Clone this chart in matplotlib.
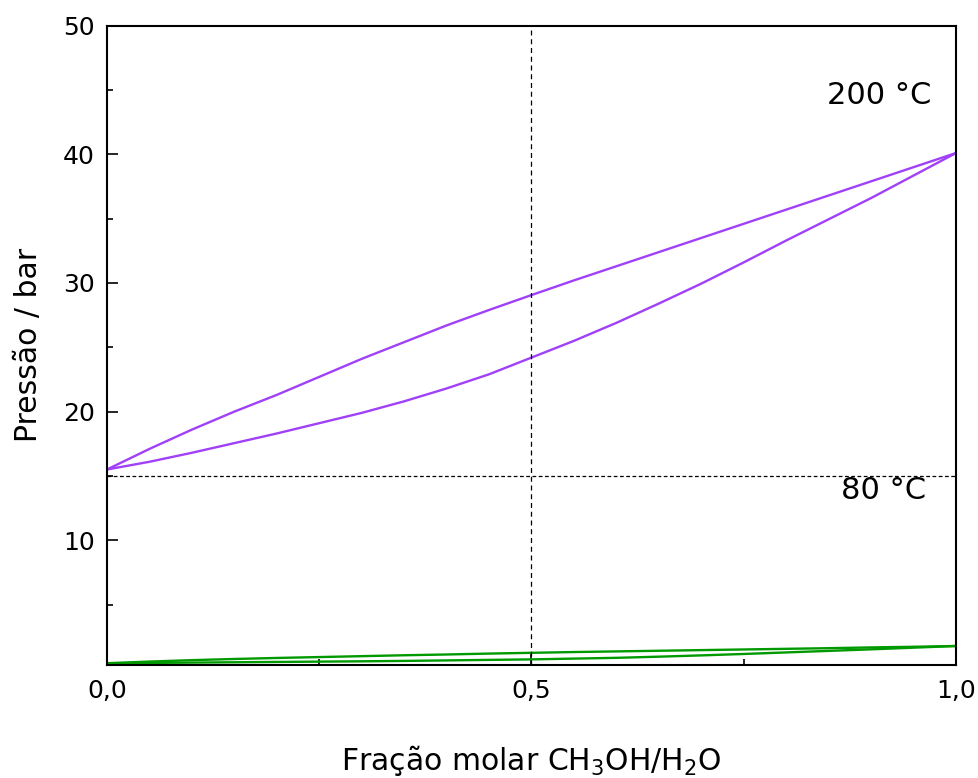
import matplotlib
matplotlib.use('Agg')
import matplotlib.pyplot as plt

x = [0.0, 0.05, 0.1, 0.15, 0.2, 0.25, 0.3, 0.35, 0.4, 0.45, 0.5,
     0.55, 0.6, 0.65, 0.7, 0.75, 0.8, 0.85, 0.9, 0.95, 1.0]

# 200 °C
p200_bubble = [15.5, 17.1, 18.6, 20.0, 21.3, 22.7, 24.1, 25.4, 26.7, 27.9, 29.06,
               30.2, 31.3, 32.4, 33.5, 34.6, 35.7, 36.8, 37.9, 39.0, 40.1]
p200_dew = [15.5, 16.1, 16.8, 17.55, 18.3, 19.1, 19.9, 20.8, 21.8, 22.9, 24.2,
            25.5, 26.9, 28.4, 29.95, 31.6, 33.3, 34.95, 36.6, 38.35, 40.1]

# 80 °C
p80_bubble = [0.44, 0.57, 0.68, 0.77, 0.85, 0.92, 0.99, 1.06, 1.12, 1.19, 1.25,
              1.31, 1.36, 1.41, 1.46, 1.51, 1.56, 1.61, 1.67, 1.72, 1.78]
p80_dew = [0.44, 0.465, 0.49, 0.515, 0.54, 0.565, 0.59, 0.62, 0.66, 0.70, 0.74,
           0.80, 0.86, 0.95, 1.05, 1.16, 1.28, 1.40, 1.52, 1.65, 1.78]

xticks = [0.0, 0.5, 1.0]
xticklabels = ['0,0', '0,5', '1,0']
yticks = [10, 20, 30, 40, 50]

fig = plt.figure(figsize=(9.79, 7.78), dpi=100)
ax = fig.add_axes([0.1093, 0.1452, 0.8672, 0.8218])

purple = '#a040f8'
green = '#009a00'
ax.plot(x, p200_bubble, color=purple, lw=1.7)
ax.plot(x, p200_dew, color=purple, lw=1.7)
ax.plot(x, p80_bubble, color=green, lw=1.7)
ax.plot(x, p80_dew, color=green, lw=1.7)

ax.axvline(0.5, color='k', lw=0.9, ls=(0, (4, 3)))
ax.axhline(15, color='k', lw=0.9, ls=(0, (3, 2)))

ax.text(0.909, 44.6, '200 °C', fontsize=22, ha='center', va='center')
ax.text(0.915, 13.9, '80 °C', fontsize=22, ha='center', va='center')

ax.set_xlim(0, 1)
ax.set_ylim(0.3, 50)
ax.set_xticks(xticks)
ax.set_xticklabels(xticklabels)
ax.set_xticks([0.25, 0.75], minor=True)
ax.set_yticks(yticks)
ax.set_yticks([5, 15, 25, 35, 45], minor=True)
ax.tick_params(which='both', direction='in', top=False, right=False, labelsize=18, width=1.2)
ax.tick_params(which='major', length=8, pad=10)
ax.tick_params(which='minor', length=4)
ax.tick_params(axis='y', pad=9)
for s in ax.spines.values():
    s.set_linewidth(1.5)

ax.set_xlabel('Fração molar CH$_3$OH/H$_2$O', fontsize=21.5, labelpad=29)
ax.set_ylabel('Pressão / bar', fontsize=21.5, labelpad=14)

fig.savefig('out.png', dpi=100)
